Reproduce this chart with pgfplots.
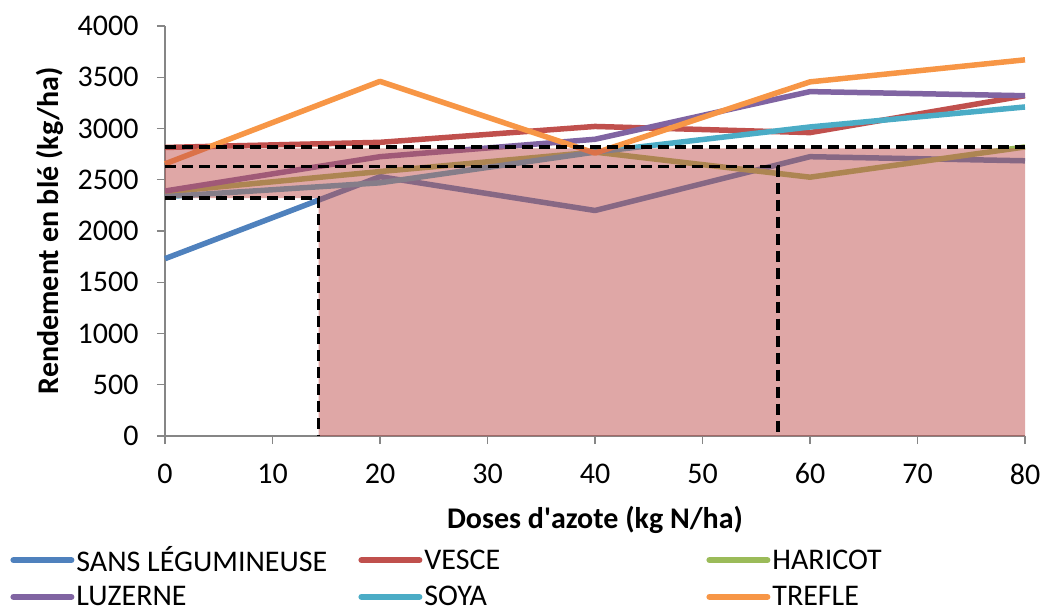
\documentclass[border=0pt]{standalone}
\usepackage{fontspec}
\setmainfont{Carlito}
\newfontfamily\carlitoraw{Carlito}
\usepackage{pgfplots}
\pgfplotsset{compat=1.18}
\definecolor{cSans}{HTML}{4F81BD}
\definecolor{cVesce}{HTML}{C0504D}
\definecolor{cHaricot}{HTML}{9BBB59}
\definecolor{cLuzerne}{HTML}{8064A2}
\definecolor{cSoya}{HTML}{4BACC6}
\definecolor{cTrefle}{HTML}{F79646}
\definecolor{cAxis}{HTML}{868686}
\begin{document}
\begin{tikzpicture}
\path[use as bounding box] (0,0) rectangle (1042pt,614pt);
\begin{axis}[
  at={(165pt,178pt)}, anchor=south west,
  scale only axis, width=860pt, height=410pt,
  xmin=0, xmax=80, ymin=0, ymax=4000,
  xtick={0,10,...,80}, ytick={0,500,...,4000},
  axis x line=bottom, axis y line=left,
  axis line style={-, draw=cAxis, line width=1.2pt},
  tick align=outside, major tick length=8pt,
  tick style={cAxis, line width=1.2pt},
  /pgf/number format/assume math mode=true,
  /pgf/number format/set thousands separator={},
  ticklabel style={font=\fontsize{30}{32}\selectfont},
  xticklabel style={yshift=-16pt},
  yticklabel style={xshift=-15pt},
  xlabel={Doses d{\carlitoraw\bfseries '}azote (kg N/ha)},
  ylabel={Rendement en blé (kg/ha)},
  label style={font=\fontsize{30}{32}\selectfont\bfseries},
  xlabel style={at={(axis description cs:0.5,-0.205)}, anchor=center},
  ylabel style={at={(axis description cs:-0.134,0.5)}, anchor=center},
  clip=false,
  legend columns=3,
  legend cell align=left,
  legend style={draw=none, fill=none, at={(axis description cs:-0.180,-0.265)}, anchor=north west,
    inner sep=0pt, font=\fontsize{30}{32}\selectfont, row sep=9pt, column sep=0pt,
    nodes={inner sep=2pt}},
  legend image code/.code={\draw[line width=6pt, line cap=round] (0pt,0pt) -- (58pt,0pt);},
  every axis plot/.append style={line width=5.5pt, line join=round},
]
\addplot[cSans] coordinates {(0,1730) (20,2530) (40,2200) (60,2725) (80,2685)};
\addlegendentry{\makebox[280pt][l]{SANS LÉGUMINEUSE}}
\addplot[cVesce] coordinates {(0,2815) (20,2865) (40,3020) (60,2960) (80,3320)};
\addlegendentry{\makebox[280pt][l]{VESCE}}
\addplot[cHaricot] coordinates {(0,2380) (20,2580) (40,2770) (60,2525) (80,2820)};
\addlegendentry{\makebox[280pt][l]{HARICOT}}
\addplot[cLuzerne] coordinates {(0,2390) (20,2725) (40,2895) (60,3360) (80,3320)};
\addlegendentry{LUZERNE}
\addplot[cSoya] coordinates {(0,2335) (20,2470) (40,2770) (60,3015) (80,3210)};
\addlegendentry{SOYA}
\addplot[cTrefle] coordinates {(0,2655) (20,3460) (40,2760) (60,3455) (80,3670)};
\addlegendentry{TREFLE}
% shaded region
\addplot[draw=none, fill=cVesce, fill opacity=0.5, forget plot, line width=0pt]
  coordinates {(0,2320) (14.3,2320) (14.3,0) (80,0) (80,2805) (0,2805)} -- cycle;
% dashed guide lines
\addplot[black, line width=3.5pt, dash pattern=on 11pt off 6pt, line join=miter, forget plot]
  coordinates {(0,2820) (80,2820)};
\addplot[black, line width=3.5pt, dash pattern=on 11pt off 6pt, line join=miter, forget plot]
  coordinates {(0,2630) (57,2630) (57,0)};
\addplot[black, line width=3.5pt, dash pattern=on 11pt off 6pt, line join=miter, forget plot]
  coordinates {(0,2320) (14.3,2320) (14.3,0)};
\end{axis}
\end{tikzpicture}
\end{document}
